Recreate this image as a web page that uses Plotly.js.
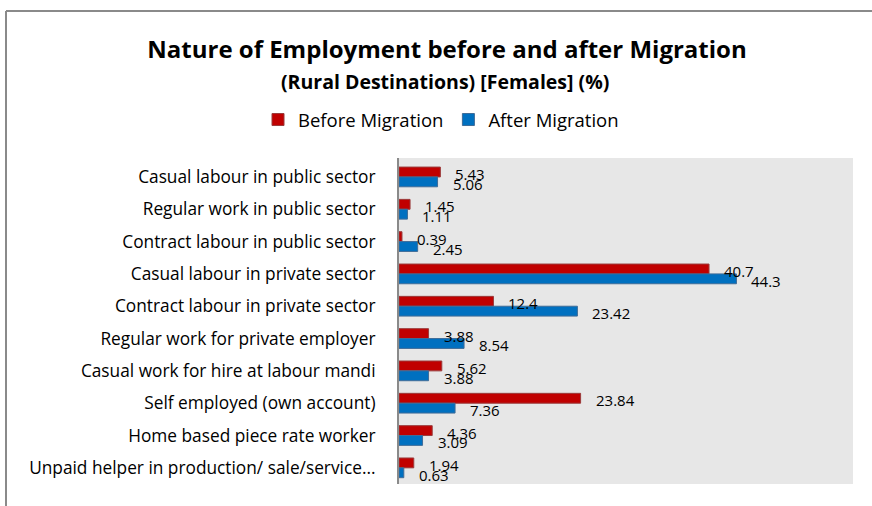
<!DOCTYPE html>
<html>
<head>
<meta charset="utf-8">
<script src="https://cdn.plot.ly/plotly-3.0.1.min.js"></script>
<style>html,body{margin:0;padding:0;background:#fff;}#chart{width:872px;height:506px;}</style>
</head>
<body>
<div id="chart"></div>
<script>
var categories = [
  "Casual labour in public sector",
  "Regular work in public sector",
  "Contract labour in public sector",
  "Casual labour in private sector",
  "Contract labour in private sector",
  "Regular work for private employer",
  "Casual work for hire at labour mandi",
  "Self employed (own account)",
  "Home based piece rate worker",
  "Unpaid helper in production/ sale/service..."
];
var beforeMigration = [5.43, 1.45, 0.39, 40.7, 12.4, 3.88, 5.62, 23.84, 4.36, 1.94];
var afterMigration  = [5.06, 1.11, 2.45, 44.3, 23.42, 8.54, 3.88, 7.36, 3.09, 0.63];
var seriesNames = ["Before Migration", "After Migration"];

var FONT = "'Open Sans', 'Noto Sans', sans-serif";
var bargap = 0.39;
var half = (1 - bargap) / 4;

function labels(vals, offset) {
  return vals.map(function (v, i) {
    return {
      x: v, y: i + offset, xref: "x", yref: "y",
      text: String(v), showarrow: false,
      xanchor: "left", yanchor: "middle", xshift: 13, yshift: -2,
      font: {family: FONT, size: 15, color: "#000"}
    };
  });
}

var traces = [
  {
    type: "bar", orientation: "h", name: seriesNames[0],
    y: categories, x: beforeMigration,
    marker: {color: "#c00000", line: {color: "#9a3b3b", width: 1}},
    hoverinfo: "x+y"
  },
  {
    type: "bar", orientation: "h", name: seriesNames[1],
    y: categories, x: afterMigration,
    marker: {color: "#0070c0", line: {color: "#3f6c98", width: 1}},
    hoverinfo: "x+y"
  }
];

var L = 399, R = 19, T = 158, B = 22;
var pw = 872 - L - R, ph = 506 - T - B;
var bx = (6 - L) / pw, by = 1 + (T - 11) / ph;

var layout = {
  width: 872, height: 506,
  margin: {l: L, r: R, t: T, b: B, pad: 0},
  paper_bgcolor: "#ffffff",
  plot_bgcolor: "#e7e7e7",
  barmode: "group",
  bargap: bargap,
  bargroupgap: 0,
  font: {family: FONT, color: "#000"},
  title: {
    text: "<b>Nature of Employment before and after Migration</b>",
    font: {family: FONT, size: 24, color: "#000"},
    x: 447 / 872, xanchor: "center", xref: "container",
    y: 1 - 50 / 506, yanchor: "middle", yref: "container"
  },
  showlegend: true,
  legend: {
    orientation: "h", x: (258 - L) / pw, xanchor: "left",
    y: 1 + (T - 120) / ph, yanchor: "middle",
    font: {family: FONT, size: 18.5, color: "#000"},
    bgcolor: "rgba(0,0,0,0)", itemwidth: 30, traceorder: "normal"
  },
  xaxis: {
    range: [0, 59.6], showgrid: false, zeroline: false,
    showticklabels: false, ticks: "", showline: false, fixedrange: true
  },
  yaxis: {
    type: "category", autorange: "reversed",
    showgrid: false, zeroline: false, ticks: "",
    showline: true, linecolor: "#8a8a8a", linewidth: 2,
    ticklabelstandoff: 18,
    tickfont: {family: FONT, size: 17.3, color: "#000"},
    fixedrange: true
  },
  annotations: [
    {
      text: "<b>(Rural Destinations) [Females] (%)</b>",
      xref: "paper", yref: "paper",
      x: (445 - L) / pw, y: 1 + (T - 81) / ph,
      xanchor: "center", yanchor: "middle", showarrow: false,
      font: {family: FONT, size: 19.5, color: "#000"}
    }
  ].concat(labels(beforeMigration, -half)).concat(labels(afterMigration, half)),
  shapes: [
    {type: "line", xref: "paper", yref: "paper", x0: bx, x1: bx, y0: -0.2, y1: by,
     line: {color: "#8a8a8a", width: 2}},
    {type: "line", xref: "paper", yref: "paper", x0: bx, x1: 1.2, y0: by, y1: by,
     line: {color: "#8a8a8a", width: 2}}
  ]
};

Plotly.newPlot("chart", traces, layout, {displayModeBar: false, staticPlot: true});
</script>
</body>
</html>
